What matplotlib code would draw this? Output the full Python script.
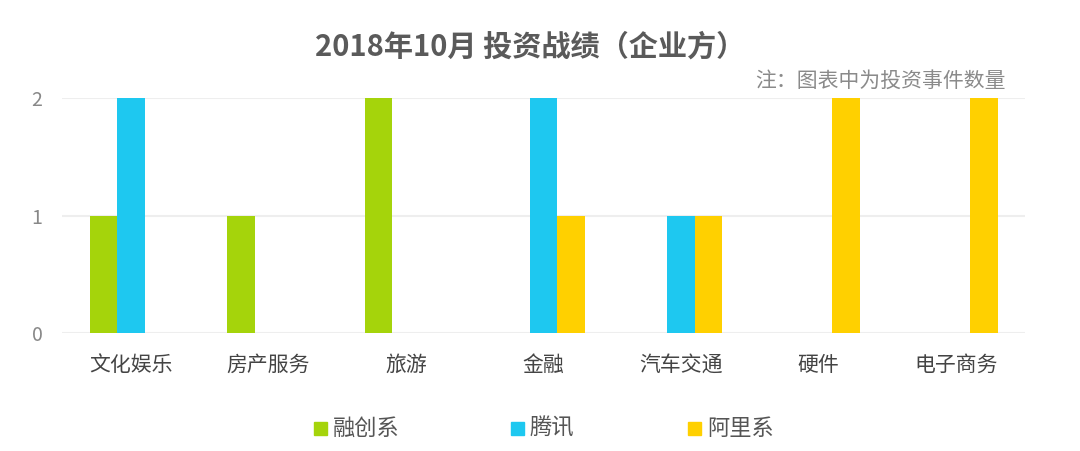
import matplotlib
matplotlib.use("Agg")
import matplotlib.pyplot as plt
import numpy as np
from matplotlib.patches import Rectangle

plt.rcParams['font.family'] = ['Noto Sans CJK SC', 'DejaVu Sans']

categories = ["文化娱乐", "房产服务", "旅游", "金融", "汽车交通", "硬件", "电子商务"]
series_names = ["融创系", "腾讯", "阿里系"]
rongchuang = [1, 1, 2, 0, 0, 0, 0]
tencent = [2, 0, 0, 2, 1, 0, 0]
alibaba = [0, 0, 0, 1, 1, 2, 2]
colors = ["#a5d40b", "#1ec8f0", "#ffd000"]
title = "2018年10月 投资战绩（企业方）"
note = "注：图表中为投资事件数量"

fig = plt.figure(figsize=(10.8, 4.51), dpi=100)
ax = fig.add_axes([0.0574, 0.2616, 0.8917, 0.5211])

x = np.arange(len(categories))
w = 0.2
for i, (vals, c) in enumerate(zip([rongchuang, tencent, alibaba], colors)):
    vals = np.array(vals, dtype=float)
    mask = vals > 0
    ax.bar(x[mask] + (i - 1) * w, vals[mask], width=w, color=c, zorder=3)

ax.set_xlim(-0.5, len(categories) - 0.5)
ax.set_ylim(0, 2)
ax.set_yticks([0, 1, 2])
ax.yaxis.grid(True, color="#eeeeee", linewidth=1.5, zorder=0)
ax.set_axisbelow(True)
for s in ax.spines.values():
    s.set_visible(False)
ax.tick_params(axis='both', length=0)
ax.tick_params(axis='y', labelsize=14, labelcolor="#888888", pad=14)
ax.set_xticks(x)
ax.set_xticklabels(categories, fontsize=15, color="#444444")
ax.tick_params(axis='x', pad=15)

fig.text(0.491, 0.897, title, ha='center', va='center', fontsize=21, fontweight='bold', color="#5a5a5a")
fig.text(0.931, 0.82, note, ha='right', va='center', fontsize=15, color="#8a8a8a")

legend_x = [0.291, 0.473, 0.637]
for lx, name, c in zip(legend_x, series_names, colors):
    fig.patches.append(Rectangle((lx, 0.035), 0.012, 0.029, transform=fig.transFigure, color=c, figure=fig))
    fig.text(lx + 0.0175, 0.05, name, ha='left', va='center', fontsize=16, color="#555555")

fig.savefig("out.png", dpi=100, facecolor="white")
